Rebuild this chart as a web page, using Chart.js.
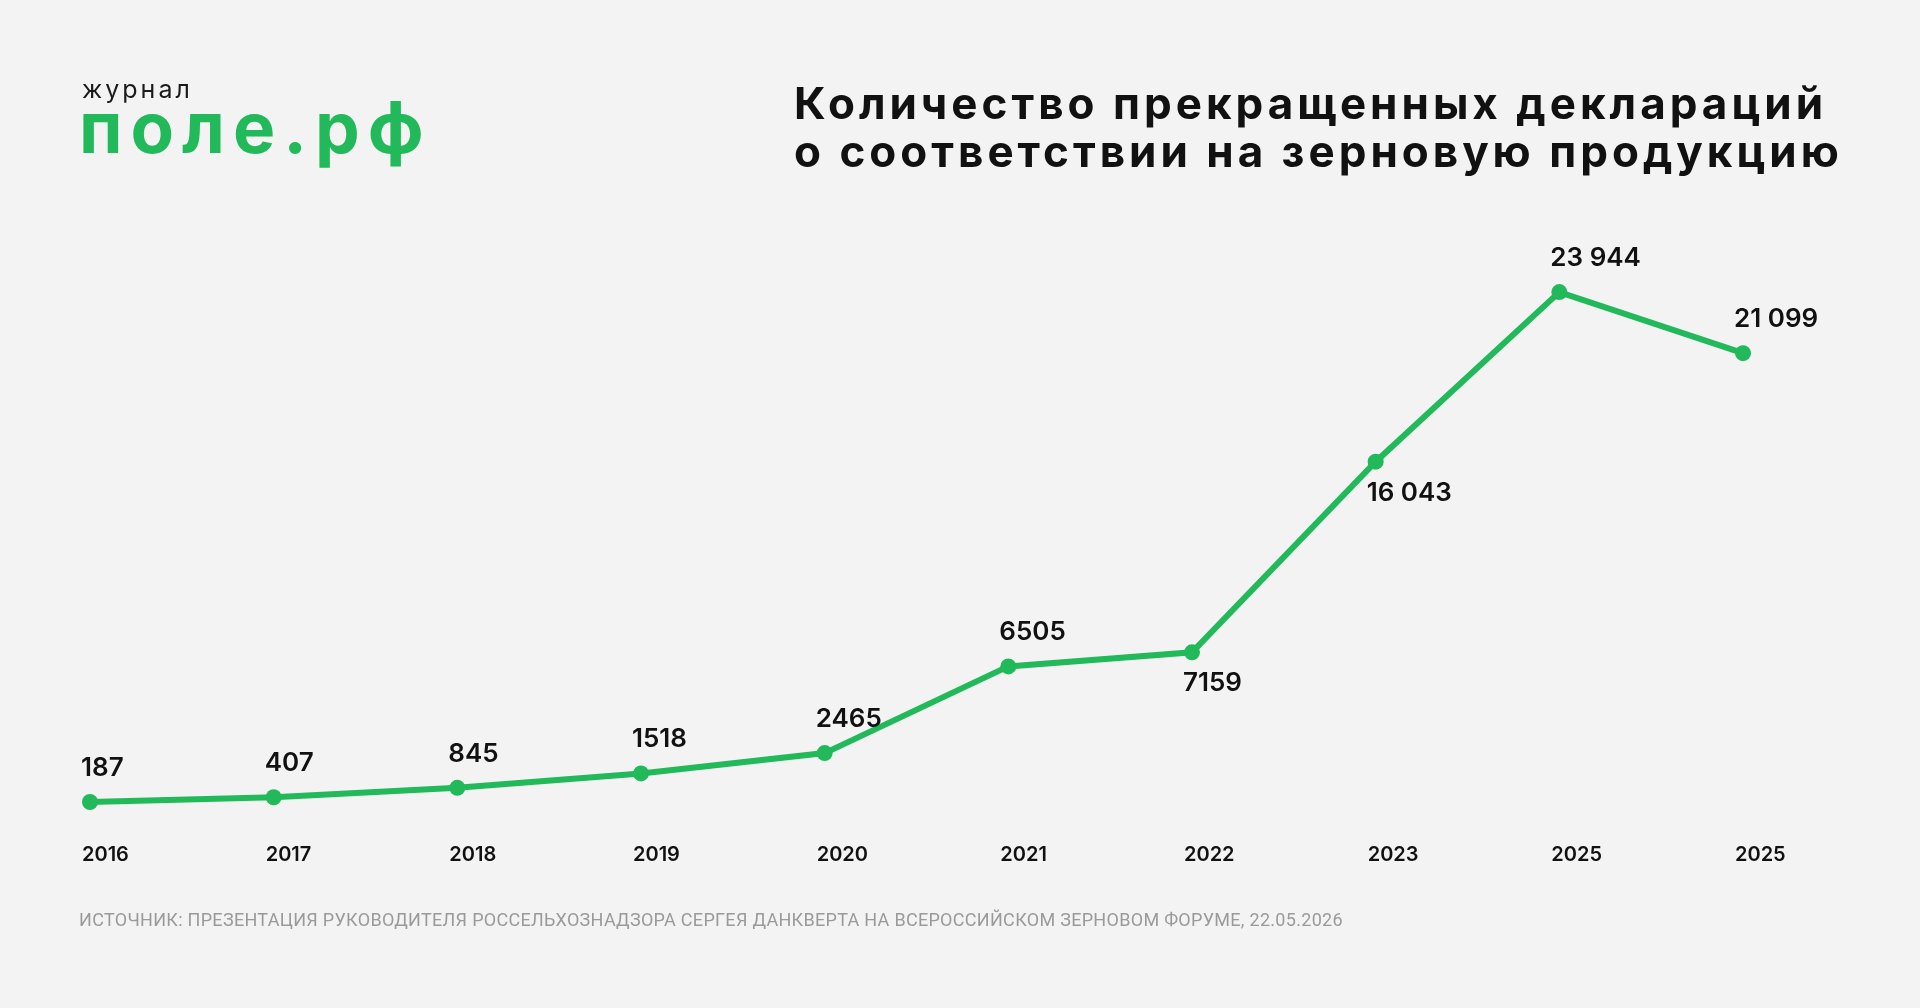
<!DOCTYPE html>
<html lang="ru">
  <head>
    <meta charset="UTF-8" />
    <title>Прекращенные декларации</title>
    <script src="https://cdn.jsdelivr.net/npm/chart.js@4.4.1/dist/chart.umd.min.js"></script>
    <style>
      body {
        margin: 0;
        padding: 0;
        background-color: #f3f3f3;
        font-family: Inter, "Noto Sans", sans-serif;
        overflow: hidden;
      }
      .page {
        position: relative;
        width: 1920px;
        height: 1008px;
      }
      .chart-box {
        position: absolute;
        left: 0;
        top: 0;
        width: 1920px;
        height: 1008px;
      }
      .logo-small {
        position: absolute;
        left: 82px;
        top: 77px;
        font-size: 25px;
        letter-spacing: 3px;
        color: #1a1a1a;
        line-height: 1;
      }
      .logo {
        position: absolute;
        left: 79px;
        top: 92px;
        font-size: 71px;
        font-weight: 700;
        letter-spacing: 8px;
        color: #22b95a;
        line-height: 1;
      }
      .title {
        position: absolute;
        left: 794px;
        top: 79px;
        font-size: 44px;
        font-weight: 700;
        line-height: 48px;
        letter-spacing: 4px;
        color: #111;
      }
      .source {
        position: absolute;
        left: 79px;
        top: 909px;
        font-family: Roboto, sans-serif;
        font-size: 18px;
        letter-spacing: 0.3px;
        color: #9a9a9a;
        white-space: nowrap;
      }
    </style>
  </head>
  <body>
    <div class="page">
      <div class="chart-box"><canvas id="chart"></canvas></div>
      <div class="logo-small">журнал</div>
      <div class="logo">поле.рф</div>
      <div class="title">
        Количество прекращенных деклараций<br />о соответствии на зерновую продукцию
      </div>
      <div class="source">
        ИСТОЧНИК: ПРЕЗЕНТАЦИЯ РУКОВОДИТЕЛЯ РОССЕЛЬХОЗНАДЗОРА СЕРГЕЯ ДАНКВЕРТА НА ВСЕРОССИЙСКОМ ЗЕРНОВОМ ФОРУМЕ, 22.05.2026
      </div>
    </div>

    <script>
      const years = ["2016", "2017", "2018", "2019", "2020", "2021", "2022", "2023", "2025", "2025"];
      const declarations = [187, 407, 845, 1518, 2465, 6505, 7159, 16043, 23944, 21099];

      const green = "#22b95a";

      // 23944 -> "23 944", short numbers stay as is
      function fmt(v) {
        const s = String(v);
        return v >= 10000 ? s.slice(0, -3) + " " + s.slice(-3) : s;
      }

      const valueLabels = {
        id: "valueLabels",
        afterDatasetsDraw(chart) {
          const ctx = chart.ctx;
          const meta = chart.getDatasetMeta(0);
          ctx.save();
          ctx.font = "600 26px Inter, sans-serif";
          ctx.fillStyle = "#111";
          ctx.textAlign = "left";
          ctx.textBaseline = "middle";
          meta.data.forEach((pt, i) => {
            // 2022 and 2023 have the label under the point
            const below = i === 6 || i === 7;
            ctx.fillText(fmt(declarations[i]), pt.x - 9, pt.y + (below ? 31 : -34));
          });
          ctx.restore();
        },
      };

      Chart.defaults.font.family = "Inter, sans-serif";

      new Chart(document.getElementById("chart"), {
        type: "line",
        data: {
          labels: years,
          datasets: [
            {
              data: declarations,
              borderColor: green,
              backgroundColor: green,
              borderWidth: 6,
              pointRadius: 8,
              pointHoverRadius: 8,
              pointBackgroundColor: green,
              pointBorderWidth: 0,
              tension: 0,
              clip: false,
            },
          ],
        },
        options: {
          responsive: true,
          maintainAspectRatio: false,
          animation: false,
          devicePixelRatio: 1,
          layout: {
            padding: { left: 90, right: 177, top: 248, bottom: 104 },
          },
          plugins: {
            legend: { display: false },
            tooltip: { enabled: false },
          },
          scales: {
            x: {
              offset: false,
              grid: { display: false, drawTicks: false },
              border: { display: false },
              ticks: {
                align: "start",
                labelOffset: -8,
                padding: 37,
                color: "#111",
                font: { size: 20, weight: "600" },
                autoSkip: false,
                maxRotation: 0,
              },
            },
            y: {
              display: false,
              min: 0,
              max: 26000,
            },
          },
        },
        plugins: [valueLabels],
      });
    </script>
  </body>
</html>
